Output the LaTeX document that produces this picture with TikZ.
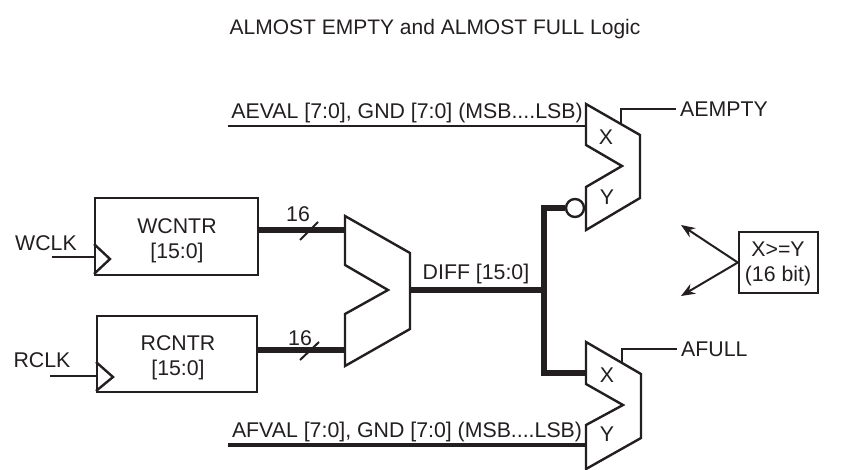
\documentclass[tikz,border=0pt]{standalone}
\usepackage{fontspec}
\setmainfont{Liberation Sans}
\usetikzlibrary{arrows.meta}
\definecolor{ink}{HTML}{231F20}
\tikzset{
  wire/.style={ink,line width=2pt},
  bus/.style={ink,line width=5.5pt},
  part/.style={ink,line width=2.4pt,line join=miter},
  counter/.style={draw=ink,line width=2.4pt,anchor=north west,inner sep=0pt,align=center},
  lbl/.style={text=ink,inner sep=0pt,align=center,font=\fontsize{21.3}{25}\selectfont},
}
\begin{document}
\begin{tikzpicture}[x=1pt,y=-1pt]
  \useasboundingbox (0,0) rectangle (842,470);
  \node[lbl,font=\fontsize{21}{25}\selectfont] (title) at (435,29) {ALMOST EMPTY and ALMOST FULL Logic};

  % counters
  \node[counter,minimum width=163pt,minimum height=77pt] (wcntr) at (94,197) {};
  \node[counter,minimum width=160pt,minimum height=76pt] (rcntr) at (96,315) {};
  \node[lbl] (wtext) at (177,241) {WCNTR\\{}[15:0]};
  \node[lbl] (rtext) at (178,358) {RCNTR\\{}[15:0]};
  \draw[part] (94,244) -- (110,259) -- (94,274);
  \draw[part] (96,362) -- (113,377) -- (96,391);
  \node[lbl] (wclk) at (46,243) {WCLK};
  \node[lbl] (rclk) at (42,360) {RCLK};
  \coordinate (wclkin) at (52,257);
  \coordinate (rclkin) at (50,376);
  \draw[wire] (wclkin) -- (wclkin-|wcntr.west);
  \draw[wire] (rclkin) -- (rclkin-|rcntr.west);

  % subtractor
  \draw[part] (345,216) -- (410,253) -- (410,329) -- (345,366) -- (345,314)
    -- (388,290) -- (345,265) -- cycle;
  \coordinate (suba) at (345,230);
  \coordinate (subb) at (345,350);
  \coordinate (subout) at (410,290);
  \draw[bus] (suba-|wcntr.east) -- (suba);
  \draw[bus] (subb-|rcntr.east) -- (subb);
  \draw[wire] (300,240) -- (318,222);
  \draw[wire] (300,360) -- (319,342);
  \node[lbl] (wbits) at (298,214) {16};
  \node[lbl] (rbits) at (300,338) {16};
  \coordinate (diffjoin) at (544,290);
  \draw[bus] (subout) -- (diffjoin);
  \node[lbl] (diff) at (476,274) {DIFF [15:0]};

  % upper comparator
  \draw[part] (586,104) -- (640,135) -- (640,198) -- (586,230) -- (586,187)
    -- (622,166) -- (586,145) -- cycle;
  \node[lbl] (ux) at (606,137) {X};
  \node[lbl] (uy) at (607,197) {Y};
  \node[draw=ink,line width=2.4pt,circle,minimum size=18pt,inner sep=0pt] (inv) at (575,208) {};
  \coordinate (aeval) at (228,126);
  \coordinate (uxin) at (586,126);
  \draw[wire] (aeval) -- (uxin);
  \node[lbl] (aevaltext) at (407,113) {AEVAL [7:0], GND [7:0] (MSB....LSB)};
  \coordinate (uout) at (621,124);
  \node[lbl,anchor=west] (aempty) at (680,109) {AEMPTY};
  \draw[wire] (uout) |- (676,109);

  % lower comparator
  \draw[part] (586,342) -- (641,374) -- (641,438) -- (586,469) -- (586,425)
    -- (623,405) -- (586,384) -- cycle;
  \node[lbl] (lx) at (607,375) {X};
  \node[lbl] (ly) at (607,434) {Y};
  \coordinate (afval) at (228,445);
  \coordinate (lyin) at (586,445);
  \draw[ink,line width=3.6pt] (afval) -- (lyin);
  \node[lbl] (afvaltext) at (407,432) {AFVAL [7:0], GND [7:0] (MSB....LSB)};
  \coordinate (lout) at (622,362);
  \node[lbl,anchor=west] (afull) at (681,349) {AFULL};
  \draw[wire] (lout) |- (677,349);

  % bus to both comparators
  \coordinate (lxin) at (586,373);
  \draw[bus,line join=miter] (inv.west) -| (diffjoin) |- (lxin);

  % flag box
  \node[draw=ink,line width=2.4pt,minimum width=79pt,minimum height=61pt,inner sep=0pt] (cmp) at (778.5,262.5) {};
  \node[lbl] (cmptext) at (778,264) {X>=Y\\(16 bit)};
  \coordinate (arrowup) at (681,225);
  \coordinate (arrowdown) at (681,296);
  \draw[wire,-{Stealth[length=14pt,width=11pt]}] (cmp.west) -- (arrowup);
  \draw[wire,-{Stealth[length=14pt,width=11pt]}] (cmp.west) -- (arrowdown);
\end{tikzpicture}
\end{document}
